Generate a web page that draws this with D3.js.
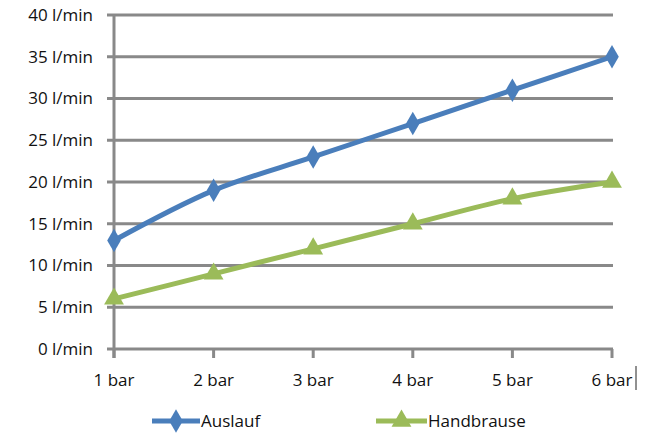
<!DOCTYPE html>
<html><head><meta charset="utf-8">
<script src="https://cdn.jsdelivr.net/npm/d3@7"></script>
<style>body{margin:0;background:#fff}svg{display:block}</style>
</head><body>
<svg id="c" width="654" height="434"></svg>
<script>
const categories = ["1 bar","2 bar","3 bar","4 bar","5 bar","6 bar"];
const auslauf = [13,19,23,27,31,35];
const handbrause = [6,9,12,15,18,20];
const yTicks = [0,5,10,15,20,25,30,35,40];
const yUnit = " l/min";
const seriesNames = ["Auslauf","Handbrause"];

const svg = d3.select("#c");
const font = "'Open Sans', sans-serif";
const fs = 17;
const x = d3.scalePoint().domain(categories).range([114, 612]);
const y = d3.scaleLinear().domain([0,40]).range([349, 15]);
const grid = "#898989";

svg.append("g").selectAll("line").data(yTicks).join("line")
  .attr("x1",107).attr("x2",613).attr("y1",d=>y(d)).attr("y2",d=>y(d))
  .attr("stroke",grid).attr("stroke-width",3);
svg.append("line").attr("x1",114).attr("x2",114).attr("y1",y(40)).attr("y2",358)
  .attr("stroke",grid).attr("stroke-width",3);
svg.append("g").selectAll("line").data(categories).join("line")
  .attr("x1",d=>x(d)).attr("x2",d=>x(d)).attr("y1",349).attr("y2",358)
  .attr("stroke",grid).attr("stroke-width",3);
svg.append("g").selectAll("text").data(yTicks).join("text")
  .attr("x",93).attr("y",d=>y(d)).attr("dy","0.35em").attr("text-anchor","end")
  .attr("font-family",font).attr("font-size",fs).attr("fill","#111")
  .text(d=>d+yUnit);
svg.append("g").selectAll("text").data(categories).join("text")
  .attr("x",d=>x(d)).attr("y",386).attr("text-anchor","middle")
  .attr("font-family",font).attr("font-size",fs).attr("fill","#111")
  .text(d=>d);
svg.append("line").attr("x1",636).attr("x2",636).attr("y1",366).attr("y2",390)
  .attr("stroke","#222").attr("stroke-width",1);

const blue = "#4a7ebb", green = "#9bbb59";
const line = d3.line().x((d,i)=>x(categories[i])).y(d=>y(d)).curve(d3.curveCatmullRom.alpha(0.5));
const diamond = d3.symbol().type(d3.symbolDiamond).size(160);
const tri = d3.symbol().type(d3.symbolTriangle).size(170);

function series(data,color,sym){
  svg.append("path").attr("d",line(data)).attr("fill","none")
    .attr("stroke",color).attr("stroke-width",5).attr("stroke-linejoin","round");
  svg.append("g").selectAll("path").data(data).join("path")
    .attr("d",sym).attr("fill",color)
    .attr("transform",(d,i)=>`translate(${x(categories[i])},${y(d)})`);
}
series(auslauf,blue,diamond);
series(handbrause,green,tri);

const leg = [
  {name:seriesNames[0],color:blue,sym:diamond,x0:152,x1:200},
  {name:seriesNames[1],color:green,sym:tri,x0:376,x1:427}
];
const ly = 421;
leg.forEach(l=>{
  svg.append("line").attr("x1",l.x0).attr("x2",l.x1).attr("y1",ly).attr("y2",ly)
    .attr("stroke",l.color).attr("stroke-width",5);
  svg.append("path").attr("d",l.sym).attr("fill",l.color)
    .attr("transform",`translate(${(l.x0+l.x1)/2},${ly})`);
  svg.append("text").attr("x",l.x1+1).attr("y",ly).attr("dy","0.35em")
    .attr("font-family",font).attr("font-size",fs).attr("fill","#111").text(l.name);
});
</script>
</body></html>
